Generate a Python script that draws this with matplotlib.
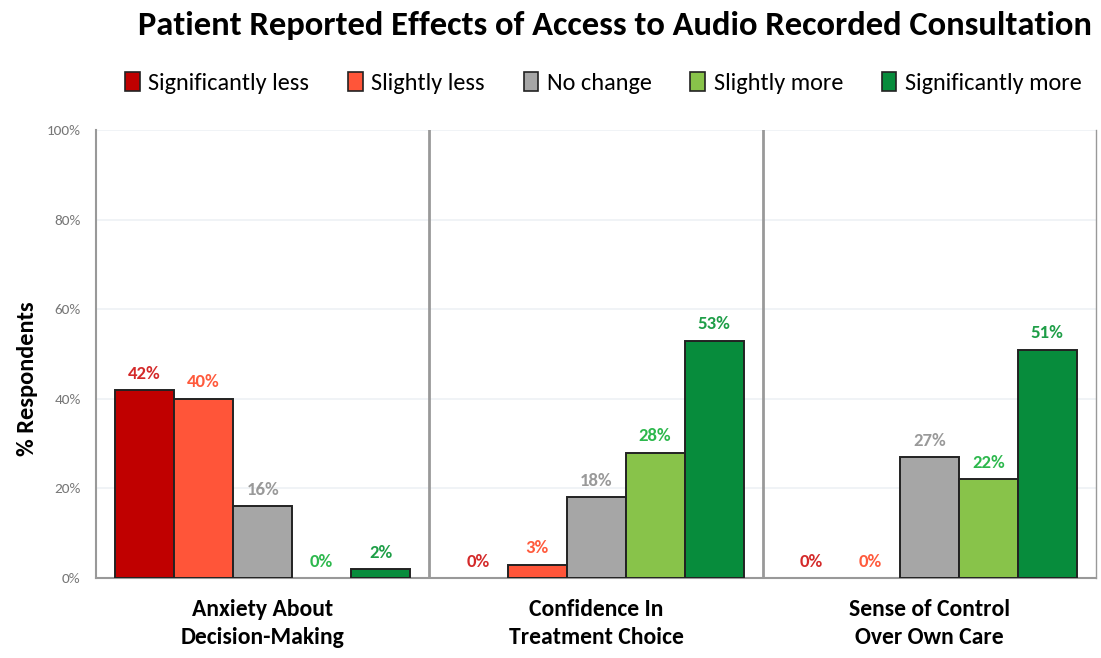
import matplotlib
matplotlib.use("Agg")
import matplotlib.pyplot as plt
from matplotlib import font_manager
from matplotlib.patches import Patch
import numpy as np

categories = ["Anxiety About\nDecision-Making", "Confidence In\nTreatment Choice", "Sense of Control\nOver Own Care"]
series = ["Significantly less", "Slightly less", "No change", "Slightly more", "Significantly more"]
sig_less = [42, 0, 0]
slight_less = [40, 3, 0]
no_change = [16, 18, 27]
slight_more = [0, 28, 22]
sig_more = [2, 53, 51]
yticks = [0, 20, 40, 60, 80, 100]

bar_colors = ["#C00000", "#FF5539", "#A6A6A6", "#88C34A", "#078C3C"]
label_colors = ["#D42A2A", "#FF5A3C", "#999999", "#2DB84D", "#1E9E47"]

available = {f.name for f in font_manager.fontManager.ttflist}
family = "DejaVu Sans"
for name in ["Carlito", "Liberation Sans Narrow", "Open Sans"]:
    if name in available:
        family = name
        break
plt.rcParams["font.family"] = family

values = [sig_less, slight_less, no_change, slight_more, sig_more]

fig = plt.figure(figsize=(11.01, 6.58), dpi=100)
ax = fig.add_axes([0.0872, 0.1216, 0.9083, 0.6808])

x = np.arange(len(categories))
width = 0.177
for i, (vals, col, lcol) in enumerate(zip(values, bar_colors, label_colors)):
    pos = x + (i - 2) * width
    for p, v in zip(pos, vals):
        if v > 0:
            ax.bar(p, v, width, color=col, edgecolor="#222222", linewidth=1.4, zorder=3)
        ax.annotate(f"{v}%", (p, v), xytext=(0, 6), textcoords="offset points",
                    ha="center", va="bottom", color=lcol, fontsize=13.5,
                    fontweight="bold", zorder=4)

for b in [0.5, 1.5]:
    ax.axvline(b, color="#999999", linewidth=2, zorder=2)

ax.set_xlim(-0.5, 2.5)
ax.set_ylim(0, 100)
ax.set_yticks(yticks)
ax.set_yticklabels([f"{t}%" for t in yticks], fontsize=11, color="#777777")
ax.set_xticks(x)
ax.set_xticklabels(categories, fontsize=17, fontweight="bold", linespacing=1.45)
ax.tick_params(axis="both", length=0)
ax.tick_params(axis="x", pad=15)
ax.tick_params(axis="y", pad=11)
ax.grid(axis="y", color="#EDF1F5", linewidth=1.2, zorder=0)
ax.set_axisbelow(True)
for s in ["left", "bottom", "right"]:
    ax.spines[s].set_color("#999999")
    ax.spines[s].set_linewidth(1.5)
ax.spines["right"].set_linewidth(1)
ax.spines["top"].set_visible(False)
ax.set_ylabel("% Respondents", fontsize=17.5, fontweight="bold")
ax.yaxis.set_label_coords(-0.058, 0.445)

fig.text(0.5586, 0.962, "Patient Reported Effects of Access to Audio Recorded Consultation",
         ha="center", va="center", fontsize=24.8, fontweight="bold")

handles = [Patch(facecolor=c, edgecolor="#222222", linewidth=1.2) for c in bar_colors]
fig.legend(handles, series, loc="center", bbox_to_anchor=(0.548, 0.874), ncol=5,
           frameon=False, fontsize=17.5, handlelength=0.6, handleheight=0.8,
           handletextpad=0.35, columnspacing=1.6)

fig.savefig("out.png", dpi=100)
